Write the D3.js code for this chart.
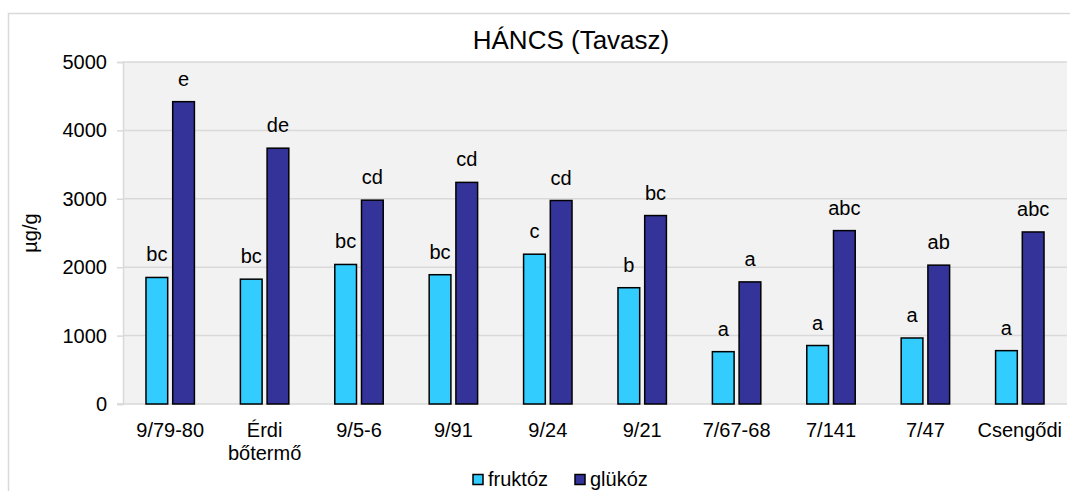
<!DOCTYPE html>
<html>
<head>
<meta charset="utf-8">
<script src="https://cdn.jsdelivr.net/npm/d3@7"></script>
<style>
  body { margin: 0; background: #fff; }
  text { font-family: Arial, "Liberation Sans", sans-serif; fill: #000; }
</style>
</head>
<body>
<svg id="chart" width="1070" height="491"></svg>
<script>
// categories (cultivars) and measured values, µg/g
const categories = ["9/79-80", "Érdi\nbőtermő", "9/5-6", "9/91", "9/24", "9/21", "7/67-68", "7/141", "7/47", "Csengődi"];
const series = ["fruktóz", "glükóz"];
const fruktoz = [1850, 1825, 2040, 1890, 2190, 1700, 765, 855, 965, 780];
const glukoz = [4420, 3740, 2980, 3240, 2975, 2755, 1785, 2535, 2030, 2515];
const fruktozLetters = ["bc", "bc", "bc", "bc", "c", "b", "a", "a", "a", "a"];
const glukozLetters = ["e", "de", "cd", "cd", "cd", "bc", "a", "abc", "ab", "abc"];
const yTicks = [0, 1000, 2000, 3000, 4000, 5000];
const colors = {"fruktóz": "#33ccff", "glükóz": "#333399"};

const svg = d3.select("#chart");

// outer chart border (runs off the picture on right and bottom)
svg.append("rect")
    .attr("x", 8.5).attr("y", 13.5)
    .attr("width", 1100).attr("height", 500)
    .attr("fill", "none")
    .attr("stroke", "#d9d9d9")
    .attr("stroke-width", 1.5);

const plot = {left: 123, right: 1067, top: 62, bottom: 404};

const x = d3.scaleBand()
    .domain(categories)
    .range([plot.left, plot.right])
    .paddingInner(0.487)
    .paddingOuter(0.2435);

const xs = d3.scaleBand()
    .domain(series)
    .range([0, x.bandwidth()])
    .paddingInner(0.187);

const y = d3.scaleLinear()
    .domain([0, 5000])
    .range([plot.bottom, plot.top]);

// plot background
svg.append("rect")
    .attr("x", plot.left).attr("y", plot.top)
    .attr("width", plot.right - plot.left)
    .attr("height", plot.bottom - plot.top)
    .attr("fill", "#f2f2f2");

// gridlines
svg.selectAll(".grid")
    .data(yTicks.slice(1)).enter()
    .append("line")
    .attr("class", "grid")
    .attr("x1", plot.left).attr("x2", plot.right)
    .attr("y1", d => y(d)).attr("y2", d => y(d))
    .attr("stroke", "#d9d9d9")
    .attr("stroke-width", 1.5);

// y axis
const yAxis = svg.append("g")
    .attr("transform", `translate(${plot.left},0)`)
    .call(d3.axisLeft(y).tickValues(yTicks).tickFormat(d3.format("d")).tickSize(6).tickPadding(10));
yAxis.select(".domain").attr("stroke", "#d9d9d9").attr("stroke-width", 1.5);
yAxis.selectAll(".tick line").attr("stroke", "#d9d9d9").attr("stroke-width", 1.5);
yAxis.selectAll(".tick text")
    .attr("font-size", "20px")
    .attr("font-family", "Arial, 'Liberation Sans', sans-serif")
    .attr("fill", "#000");

// baseline
svg.append("line")
    .attr("x1", plot.left - 6).attr("x2", plot.right)
    .attr("y1", y(0)).attr("y2", y(0))
    .attr("stroke", "#d9d9d9")
    .attr("stroke-width", 1.5);

// bars
const rows = categories.map((c, i) => ({
    cat: c,
    vals: [
        {s: "fruktóz", v: fruktoz[i], l: fruktozLetters[i]},
        {s: "glükóz", v: glukoz[i], l: glukozLetters[i]}
    ]
}));

const groups = svg.selectAll(".cat-group")
    .data(rows).enter()
    .append("g")
    .attr("class", "cat-group")
    .attr("transform", d => `translate(${x(d.cat)},0)`);

groups.selectAll("rect")
    .data(d => d.vals).enter()
    .append("rect")
    .attr("x", d => xs(d.s))
    .attr("y", d => y(d.v))
    .attr("width", xs.bandwidth())
    .attr("height", d => y(0) - y(d.v))
    .attr("fill", d => colors[d.s])
    .attr("stroke", "#000")
    .attr("stroke-width", 1.5);

// significance letters
groups.selectAll(".letter")
    .data(d => d.vals).enter()
    .append("text")
    .attr("class", "letter")
    .attr("x", d => xs(d.s) + xs.bandwidth() / 2)
    .attr("y", d => y(d.v) - 16)
    .attr("text-anchor", "middle")
    .attr("font-size", "20px")
    .text(d => d.l);

// category labels (may be two lines)
svg.selectAll(".cat-label")
    .data(categories).enter()
    .append("text")
    .attr("class", "cat-label")
    .attr("x", d => x(d) + x.bandwidth() / 2)
    .attr("y", 437)
    .attr("text-anchor", "middle")
    .attr("font-size", "20px")
    .each(function(d) {
        const lines = d.split("\n");
        d3.select(this).selectAll("tspan")
            .data(lines).enter()
            .append("tspan")
            .attr("x", x(d) + x.bandwidth() / 2)
            .attr("dy", (l, i) => i === 0 ? 0 : 23)
            .text(l => l);
    });

// title
svg.append("text")
    .attr("x", 571)
    .attr("y", 49)
    .attr("text-anchor", "middle")
    .attr("font-size", "26px")
    .text("HÁNCS (Tavasz)");

// y axis label
svg.append("text")
    .attr("transform", `translate(37,${(plot.top + plot.bottom) / 2}) rotate(-90)`)
    .attr("text-anchor", "middle")
    .attr("font-size", "20px")
    .text("µg/g");

// legend
const legendItems = [{s: "fruktóz", x: 473}, {s: "glükóz", x: 575}];
const legend = svg.selectAll(".legend")
    .data(legendItems).enter()
    .append("g")
    .attr("class", "legend")
    .attr("transform", d => `translate(${d.x},0)`);
legend.append("rect")
    .attr("x", 0).attr("y", 474.5)
    .attr("width", 10).attr("height", 10)
    .attr("fill", d => colors[d.s])
    .attr("stroke", "#000")
    .attr("stroke-width", 1.5);
legend.append("text")
    .attr("x", 15)
    .attr("y", 486)
    .attr("font-size", "20px")
    .text(d => d.s);
</script>
</body>
</html>
